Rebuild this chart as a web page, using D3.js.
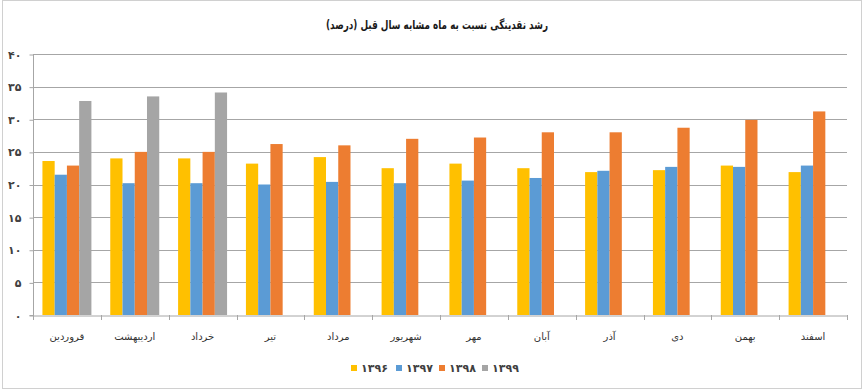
<!DOCTYPE html>
<html>
<head>
<meta charset="utf-8">
<script src="https://cdn.jsdelivr.net/npm/d3@7"></script>
<style>
  html, body { margin: 0; padding: 0; background: #fff; }
  svg { display: block; }
  text { font-family: "DejaVu Sans", "Noto Sans", sans-serif; }
</style>
</head>
<body>
<svg id="chart" width="864" height="391"></svg>
<script>
const categories = ["قروردین","اردیبهشت","خرداد","تیر","مرداد","شهریور","مهر","آبان","آذر","دی","بهمن","اسفند"];
const seriesNames = ["۱۳۹۶","۱۳۹۷","۱۳۹۸","۱۳۹۹"];
const s1396 = [23.6, 24.0, 24.0, 23.2, 24.2, 22.5, 23.2, 22.5, 21.9, 22.2, 22.9, 21.9];
const s1397 = [21.5, 20.2, 20.2, 20.0, 20.4, 20.2, 20.6, 21.0, 22.1, 22.7, 22.7, 22.9];
const s1398 = [22.9, 25.0, 25.0, 26.2, 26.0, 27.0, 27.2, 28.0, 28.0, 28.7, 29.9, 31.2];
const s1399 = [32.8, 33.5, 34.1, null, null, null, null, null, null, null, null, null];
const colors = ["#FFC000", "#5B9BD5", "#ED7D31", "#A5A5A5"];
const yTicks = [0, 5, 10, 15, 20, 25, 30, 35, 40];
const toFa = n => String(n).replace(/\d/g, d => "۰۱۲۳۴۵۶۷۸۹"[d]);

const allSeries = [s1396, s1397, s1398, s1399];
const svg = d3.select("#chart");

// outer frame
svg.append("rect").attr("x", 2.5).attr("y", 0.5).attr("width", 859).attr("height", 388)
  .attr("fill", "#fff").attr("stroke", "#d0d0d0").attr("stroke-width", 1);

const mLeft = 33, mRight = 847, mTop = 54, mBottom = 315;
const x0 = d3.scaleBand().domain(categories).range([mLeft, mRight]).padding(0);
const inset = x0.bandwidth() * 0.139;
const x1 = d3.scaleBand().domain(seriesNames).range([inset, x0.bandwidth() - inset]).padding(0);
const y = d3.scaleLinear().domain([0, 40]).range([mBottom, mTop]);

// gridlines
svg.append("g").selectAll("line").data(yTicks.filter(d => d > 0)).join("line")
  .attr("x1", mLeft).attr("x2", mRight)
  .attr("y1", d => Math.round(y(d)) + 0.5).attr("y2", d => Math.round(y(d)) + 0.5)
  .attr("stroke", "#a6a6a6").attr("stroke-width", 1);

// y axis
const yAxis = d3.axisLeft(y).tickValues(yTicks).tickSize(4).tickPadding(8).tickFormat(toFa);
const gy = svg.append("g").attr("transform", `translate(${mLeft + 0.5},0.5)`).call(yAxis);
gy.select(".domain").attr("stroke", "#a6a6a6").attr("d", `M-4,${y(0)}H0V${y(40)}`);
gy.selectAll(".tick line").attr("stroke", "#a6a6a6");
gy.selectAll(".tick text").attr("font-size", 11).attr("font-weight", "bold").attr("fill", "#404040");

// bars
const groups = svg.append("g").selectAll("g").data(categories).join("g")
  .attr("transform", c => `translate(${x0(c)},0)`);
groups.selectAll("rect")
  .data((c, i) => allSeries.map((s, k) => ({ key: seriesNames[k], value: s[i], k })).filter(d => d.value != null))
  .join("rect")
  .attr("x", d => x1(d.key))
  .attr("width", x1.bandwidth())
  .attr("y", d => y(d.value))
  .attr("height", d => y(0) - y(d.value))
  .attr("fill", d => colors[d.k]);

// x axis
const xAxis = d3.axisBottom(x0).tickSize(0).tickPadding(17);
const gx = svg.append("g").attr("transform", `translate(0,${mBottom + 0.5})`).call(xAxis);
gx.select(".domain").attr("stroke", "#a6a6a6");
gx.selectAll(".tick text").attr("font-size", 10).attr("fill", "#333");
// category tick marks at band boundaries
svg.append("g").selectAll("line").data(categories.concat(["end"])).join("line")
  .attr("x1", (c, i) => Math.round(mLeft + i * x0.bandwidth()) + 0.5)
  .attr("x2", (c, i) => Math.round(mLeft + i * x0.bandwidth()) + 0.5)
  .attr("y1", mBottom).attr("y2", mBottom + 5)
  .attr("stroke", "#a6a6a6");

// title
svg.append("text").attr("x", 437).attr("y", 29).attr("text-anchor", "middle")
  .attr("font-size", 12).attr("font-weight", "bold").attr("fill", "#1a1a1a")
  .attr("textLength", 222).attr("lengthAdjust", "spacingAndGlyphs")
  .text("رشد نقدینگی نسبت به ماه مشابه سال قبل (درصد)");

// legend
const legendX = [351, 396, 439, 482];
const lg = svg.append("g").selectAll("g").data(seriesNames).join("g")
  .attr("transform", (d, i) => `translate(${legendX[i]},368)`);
lg.append("rect").attr("x", 0).attr("y", -3).attr("width", 6).attr("height", 6)
  .attr("fill", (d, i) => colors[i]);
lg.append("text").attr("x", 10).attr("y", 4).attr("font-size", 11).attr("font-weight", "bold")
  .attr("fill", "#404040").text(d => d);
</script>
</body>
</html>
